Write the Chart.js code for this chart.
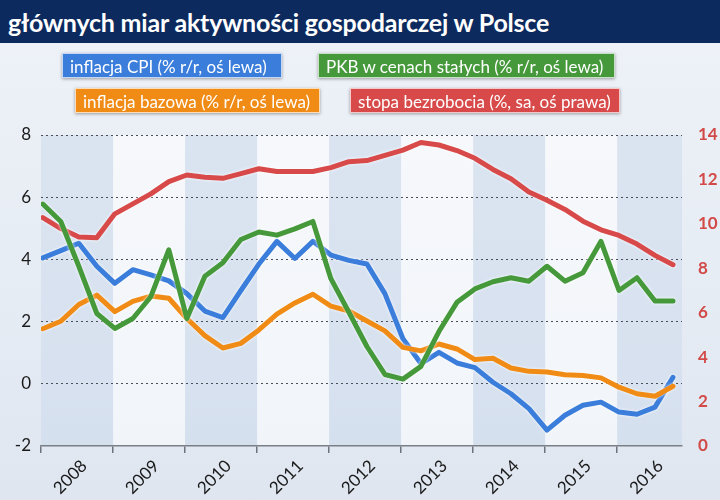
<!DOCTYPE html>
<html>
<head>
<meta charset="utf-8">
<script src="https://cdn.jsdelivr.net/npm/chart.js@4.4.1/dist/chart.umd.min.js"></script>
<style>
    html, body { margin: 0; padding: 0; }
    body {
        width: 720px; height: 500px; position: relative; overflow: hidden;
        font-family: Lato, "Open Sans", sans-serif;
        background: linear-gradient(180deg, #eef2f8 0%, #e6ecf4 60%, #dfe6f0 100%);
    }
    #title { position: absolute; left: 0; top: 0; width: 720px; height: 43px; background: #0c2a5e; }
    #title span { position: absolute; left: 8px; top: 7px; color: #fff; font-size: 25px; font-weight: bold; letter-spacing: -0.2px; }
    .leg {
        position: absolute; height: 25px; line-height: 25px; color: #fff; font-size: 17px;
        padding: 0 7px; box-sizing: border-box; white-space: nowrap; z-index: 2;
        border: 1px solid rgba(255,255,255,0.7); box-shadow: 0 1px 3px rgba(0,0,0,0.35);
    }
    #wrap { position: absolute; left: 0; top: 0; width: 720px; height: 500px; z-index: 1; }
</style>
</head>
<body>
<div id="title"><span>głównych miar aktywności gospodarczej w Polsce</span></div>
<div class="leg" style="left:62px;top:53px;width:220px;background:#3b7ddb;">inflacja CPI (% r/r, oś lewa)</div>
<div class="leg" style="left:318px;top:53px;width:297px;background:#45993b;">PKB w cenach stałych (% r/r, oś lewa)</div>
<div class="leg" style="left:75px;top:88px;width:245px;background:#f08c16;">inflacja bazowa (% r/r, oś lewa)</div>
<div class="leg" style="left:350px;top:88px;width:270px;background:#d84a4a;">stopa bezrobocia (%, sa, oś prawa)</div>
<div id="wrap"><canvas id="chart"></canvas></div>

<script>
// years on the x axis (4 quarters each, first point = Q1 2008)
var years = ['2008','2009','2010','2011','2012','2013','2014','2015','2016'];

// inflacja CPI (% r/r)
var cpi = [4.05, 4.28, 4.52, 3.78, 3.23, 3.67, 3.50, 3.31, 2.90, 2.34, 2.13, 3.00,
           3.85, 4.58, 4.03, 4.58, 4.14, 3.97, 3.85, 2.90, 1.45, 0.65, 1.01, 0.67,
           0.52, 0.05, -0.32, -0.80, -1.49, -1.01, -0.69, -0.59, -0.91, -0.98, -0.75, 0.21];

// inflacja bazowa (% r/r)
var core = [1.77, 2.01, 2.55, 2.85, 2.32, 2.65, 2.82, 2.75, 2.10, 1.55, 1.15, 1.30,
            1.73, 2.24, 2.60, 2.88, 2.50, 2.34, 2.02, 1.70, 1.17, 1.06, 1.28, 1.12,
            0.78, 0.82, 0.51, 0.40, 0.38, 0.29, 0.27, 0.19, -0.11, -0.32, -0.40, -0.08];

// PKB w cenach stałych (% r/r)
var gdp = [5.78, 5.22, 3.78, 2.26, 1.78, 2.10, 2.80, 4.31, 2.10, 3.46, 3.89, 4.64,
           4.88, 4.78, 4.98, 5.22, 3.38, 2.30, 1.20, 0.30, 0.15, 0.56, 1.68, 2.62,
           3.05, 3.28, 3.41, 3.30, 3.78, 3.30, 3.57, 4.58, 3.00, 3.41, 2.66, 2.66];

// stopa bezrobocia (%, sa) - right axis
var unemp = [10.28, 9.79, 9.41, 9.38, 10.45, 10.90, 11.35, 11.90, 12.20, 12.10, 12.05, 12.26,
             12.48, 12.36, 12.36, 12.36, 12.53, 12.80, 12.85, 13.08, 13.32, 13.66, 13.55, 13.30,
             12.95, 12.45, 12.03, 11.43, 11.06, 10.65, 10.12, 9.73, 9.48, 9.09, 8.58, 8.16];

var leftTicks = [-2, 0, 2, 4, 6, 8];
var rightTicks = [0, 2, 4, 6, 8, 10, 12, 14];

function pts(arr) {
    return arr.map(function(v, i) { return { x: i, y: v }; });
}

function isBoundary(v) {
    return Math.abs(v + 0.1 - Math.round((v + 0.1) / 4) * 4) < 0.01;
}

// alternating year bands + soft glow under lines
var bandPlugin = {
    id: 'bands',
    beforeDraw: function(chart) {
        var ctx = chart.ctx, a = chart.chartArea, xs = chart.scales.x;
        ctx.save();
        for (var k = 0; k < years.length; k++) {
            var x0 = Math.max(a.left, xs.getPixelForValue(4 * k - 0.1));
            var x1 = Math.min(a.right, xs.getPixelForValue(4 * k + 3.9));
            ctx.fillStyle = k % 2 === 0 ? 'rgba(200,214,236,0.45)' : 'rgba(255,255,255,0.55)';
            ctx.fillRect(x0, a.top, x1 - x0, a.bottom - a.top);
        }
        ctx.restore();
    },
    beforeDatasetDraw: function(chart) {
        var ctx = chart.ctx;
        ctx.save();
        ctx.shadowColor = 'rgba(255,255,255,0.95)';
        ctx.shadowBlur = 3;
    },
    afterDatasetDraw: function(chart) {
        chart.ctx.restore();
    }
};

var lineOpts = { borderWidth: 5, pointRadius: 0, tension: 0, borderJoinStyle: 'round', borderCapStyle: 'round', fill: false };

new Chart(document.getElementById('chart'), {
    type: 'line',
    data: {
        datasets: [
            Object.assign({ label: 'PKB w cenach stałych', data: pts(gdp), borderColor: '#45993b', yAxisID: 'y', order: 1 }, lineOpts),
            Object.assign({ label: 'stopa bezrobocia', data: pts(unemp), borderColor: '#d84a4a', yAxisID: 'y2', order: 2 }, lineOpts),
            Object.assign({ label: 'inflacja bazowa', data: pts(core), borderColor: '#f08c16', yAxisID: 'y', order: 3 }, lineOpts),
            Object.assign({ label: 'inflacja CPI', data: pts(cpi), borderColor: '#3b7ddb', yAxisID: 'y', order: 4 }, lineOpts)
        ]
    },
    options: {
        responsive: true,
        maintainAspectRatio: false,
        animation: false,
        layout: { padding: { top: 135, left: 0, right: 0, bottom: 0 } },
        plugins: { legend: { display: false }, tooltip: { enabled: false } },
        scales: {
            x: {
                type: 'linear', min: -0.1, max: 35.5,
                afterBuildTicks: function(s) {
                    var t = [];
                    years.forEach(function(y, k) {
                        t.push({ value: 4 * k - 0.1 });
                        t.push({ value: 4 * k + 2.3 });
                    });
                    s.ticks = t;
                },
                afterFit: function(s) { s.height = 54; },
                ticks: {
                    autoSkip: false, maxRotation: 45, minRotation: 45, padding: 3,
                    color: '#1a1a1a', font: { family: 'Lato', size: 17 },
                    callback: function(v) {
                        if (isBoundary(v)) return '';
                        return years[Math.round((v - 2.3) / 4)];
                    }
                },
                grid: {
                    drawOnChartArea: false, tickLength: 7, lineWidth: 1.5,
                    tickColor: function(c) { return isBoundary(c.tick.value) ? '#6f747c' : 'rgba(0,0,0,0)'; }
                },
                border: { display: true, color: '#7a7f88', width: 1.5 }
            },
            y: {
                position: 'left', min: -2, max: 8,
                afterBuildTicks: function(s) { s.ticks = leftTicks.map(function(v) { return { value: v }; }); },
                afterFit: function(s) { s.width = 41; },
                ticks: { padding: 10, color: '#1a1a1a', font: { family: 'Lato', size: 17 } },
                grid: {
                    drawTicks: false, lineWidth: 1,
                    color: function(c) { return c.tick.value === -2 ? 'rgba(0,0,0,0)' : '#4a4e56'; }
                },
                border: { display: false, dash: [2, 3] }
            },
            y2: {
                position: 'right', min: 0, max: 14,
                afterBuildTicks: function(s) { s.ticks = rightTicks.map(function(v) { return { value: v }; }); },
                afterFit: function(s) { s.width = 38; },
                ticks: { padding: 8, color: '#d24a48', font: { family: 'Lato', size: 17, weight: 'bold' } },
                grid: { display: false },
                border: { display: false }
            }
        }
    },
    plugins: [bandPlugin]
});
</script>
</body>
</html>
